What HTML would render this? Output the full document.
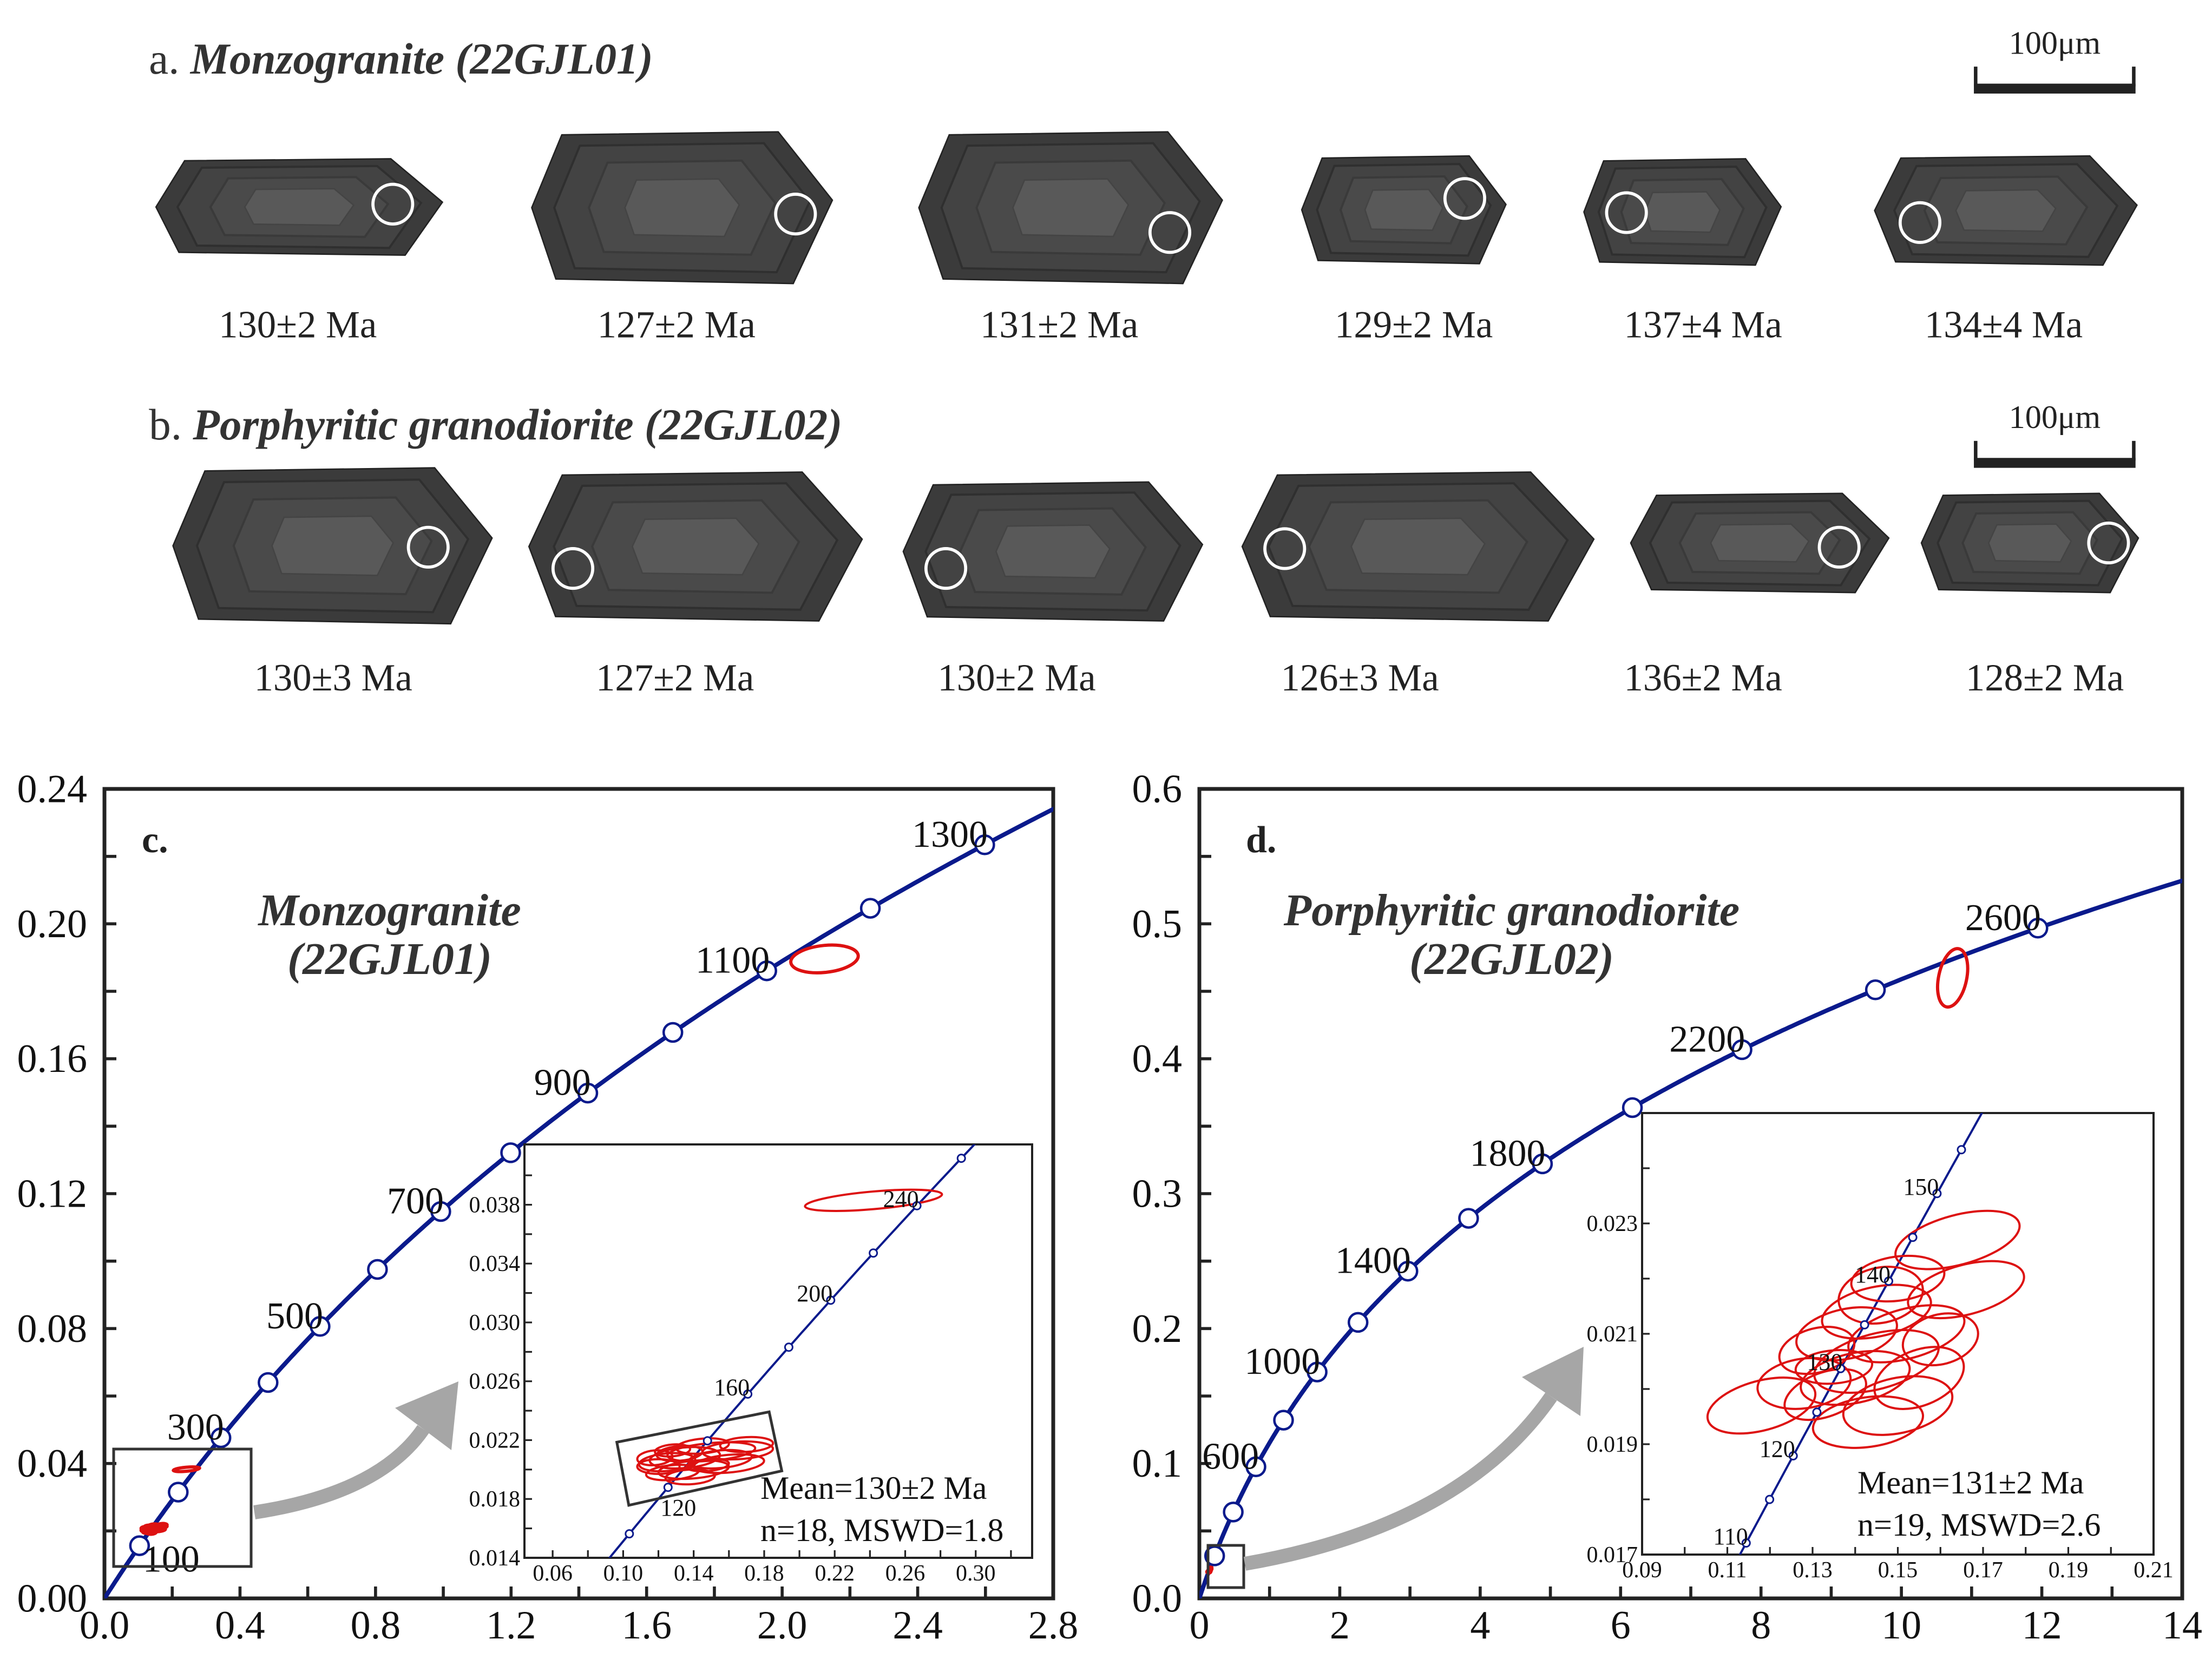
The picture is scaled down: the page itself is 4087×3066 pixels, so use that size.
<!DOCTYPE html>
<html><head><meta charset="utf-8">
<style>
html,body{margin:0;padding:0;background:#fff;}
svg{display:block;font-family:"Liberation Serif",serif;}
</style></head>
<body>
<svg id="fig" xmlns="http://www.w3.org/2000/svg" width="4087" height="3066" viewBox="0 0 4087 3066">
<rect width="4087" height="3066" fill="#fff"/>
<defs>
<clipPath id="clipC"><rect x="193" y="1458" width="1753" height="1496"/></clipPath>
<clipPath id="clipD"><rect x="2216" y="1458" width="1816" height="1496"/></clipPath>
<clipPath id="clipCi"><rect x="969" y="2115" width="938" height="764"/></clipPath>
<clipPath id="clipDi"><rect x="3034" y="2057" width="945" height="816"/></clipPath>
</defs>
<g id="topg" transform="scale(2.62)"></g>
<g id="charts"></g>
</svg>
<script>
// ---------- data ----------
const cMainXTicks=[0,0.4,0.8,1.2,1.6,2.0,2.4,2.8];
const cMainXLabels=["0.0","0.4","0.8","1.2","1.6","2.0","2.4","2.8"];
const cMainYTicks=[0,0.04,0.08,0.12,0.16,0.20,0.24];
const cMainYLabels=["0.00","0.04","0.08","0.12","0.16","0.20","0.24"];
const cMarkerAges=[100,200,300,400,500,600,700,800,900,1000,1100,1200,1300];
const cLabelAges=[100,300,500,700,900,1100,1300];
const cInsetXTicks=[0.06,0.10,0.14,0.18,0.22,0.26,0.30];
const cInsetXLabels=["0.06","0.10","0.14","0.18","0.22","0.26","0.30"];
const cInsetYTicks=[0.014,0.018,0.022,0.026,0.030,0.034,0.038];
const cInsetYLabels=["0.014","0.018","0.022","0.026","0.030","0.034","0.038"];
const cInsetMarkerAges=[100,120,140,160,180,200,220,240,260];
const cInsetLabelAges=[120,160,200,240];
const cEllX=[0.125,0.135,0.150,0.165,0.140,0.128,0.155,0.120,0.145,0.132,0.160,0.138,0.148,0.118,0.170,0.128,0.242,2.125];
const cEllY=[0.0205,0.0208,0.0212,0.0213,0.0200,0.0198,0.0207,0.0202,0.0216,0.0211,0.0204,0.0195,0.0203,0.0208,0.0217,0.0213,0.0383,0.1896];
const cEllSX=[0.016,0.020,0.025,0.020,0.020,0.015,0.018,0.012,0.015,0.013,0.020,0.014,0.012,0.010,0.015,0.010,0.039,0.100];
const cEllSY=[0.0006,0.0007,0.0006,0.0006,0.0006,0.0005,0.0006,0.0005,0.0005,0.0005,0.0006,0.0005,0.0004,0.0005,0.0005,0.0004,0.0006,0.004];
const cEllRot=[-5,-5,-5,-3,-5,-5,-5,0,-5,-5,-5,-3,-5,-5,-3,-5,-5,-6];

const dMainXTicks=[0,2,4,6,8,10,12,14];
const dMainXLabels=["0","2","4","6","8","10","12","14"];
const dMainYTicks=[0,0.1,0.2,0.3,0.4,0.5,0.6];
const dMainYLabels=["0.0","0.1","0.2","0.3","0.4","0.5","0.6"];
const dMarkerAges=[200,400,600,800,1000,1200,1400,1600,1800,2000,2200,2400,2600];
const dLabelAges=[600,1000,1400,1800,2200,2600];
const dInsetXTicks=[0.09,0.11,0.13,0.15,0.17,0.19,0.21];
const dInsetXLabels=["0.09","0.11","0.13","0.15","0.17","0.19","0.21"];
const dInsetYTicks=[0.017,0.019,0.021,0.023];
const dInsetYLabels=["0.017","0.019","0.021","0.023"];
const dInsetMarkerAges=[110,115,120,125,130,135,140,145,150,155];
const dInsetLabelAges=[110,120,130,140,150];
const dEllX=[0.164,0.166,0.150,0.145,0.152,0.138,0.145,0.140,0.128,0.118,0.133,0.150,0.143,0.135,0.155,0.131,0.160,0.146,10.73];
const dEllY=[0.0227,0.0218,0.0220,0.0214,0.0210,0.0210,0.0205,0.0202,0.0201,0.0197,0.0199,0.0197,0.0194,0.0204,0.0202,0.0207,0.0209,0.0217,0.46];
const dEllSX=[0.015,0.014,0.011,0.013,0.014,0.012,0.015,0.013,0.011,0.013,0.010,0.013,0.013,0.009,0.011,0.009,0.009,0.010,0.2];
const dEllSY=[0.00045,0.00045,0.0004,0.00045,0.00045,0.00045,0.0005,0.00045,0.00045,0.00045,0.0004,0.0005,0.00045,0.0003,0.0005,0.0004,0.00045,0.0005,0.022];
const dEllRot=[-15,-15,-8,-12,-15,-12,-15,-12,-8,-15,-20,-12,-8,-5,-22,-15,-15,-12,12];

const rowALabels=["130±2 Ma","127±2 Ma","131±2 Ma","129±2 Ma","137±4 Ma","134±4 Ma"];
const rowBLabels=["130±3 Ma","127±2 Ma","130±2 Ma","126±3 Ma","136±2 Ma","128±2 Ma"];

// ---------- helpers ----------
const NS="http://www.w3.org/2000/svg";
function mk(parent,tag,attrs){const e=document.createElementNS(NS,tag);for(const k in attrs)e.setAttribute(k,attrs[k]);parent.appendChild(e);return e;}
const L238=1.55125e-4, L235=9.8485e-4;
function conc(t){return [Math.exp(L235*t)-1,Math.exp(L238*t)-1];}
function scaleFn(d0,d1,p0,p1){return v=>p0+(v-d0)/(d1-d0)*(p1-p0);}

// ---------- top CL images ----------
const topG=document.getElementById('topg');
const crysA=[[110,112,312,180],[375,93,587,200],[648,93,862,200],[918,110,1062,186],[1117,112,1256,187],[1322,110,1507,187]];
const circA=[[277,144],[561,151],[825,164],[1033,140],[1147,150],[1354,157]];
const labXA=[210,477,747,997,1201,1413];
const crysB=[[122,330,347,440],[373,333,608,438],[637,340,848,438],[876,333,1124,438],[1150,348,1332,418],[1355,348,1508,418]];
const circB=[[302,386],[404,401],[667,401],[906,387],[1297,386],[1487,383]];
const labXB=[235,476,717,959,1201,1442];
function crystal(b,name){
  const [x0,y0,x1,y1]=b,w=x1-x0,h=y1-y0,ym=(y0+y1)/2;
  const g=mk(topG,'g',{});
  
  
  const pts=[[x0,ym],[x0+0.1*w,y0+0.02*h],[x1-0.18*w,y0],[x1,ym-0.05*h],[x1-0.13*w,y1],[x0+0.08*w,y1-0.03*h]];
  const cx=(x0+x1)/2,cy=ym;
  const poly=(s)=>pts.map(p=>(cx+(p[0]-cx)*s).toFixed(1)+','+(cy+(p[1]-cy)*s).toFixed(1)).join(' ');
  mk(g,'polygon',{points:poly(1),fill:'#3b3b3b',stroke:'#222','stroke-width':1});
  mk(g,'polygon',{points:poly(0.85),fill:'#434343',stroke:'#2f2f2f','stroke-width':1.5});
  mk(g,'polygon',{points:poly(0.62),fill:'#4a4a4a',stroke:'#3a3a3a','stroke-width':1.5});
  mk(g,'polygon',{points:poly(0.38),fill:'#595959',stroke:'#444','stroke-width':1});
}
function spot(c,name){
  const e=mk(topG,'circle',{cx:c[0],cy:c[1],r:14,fill:'none',stroke:'#fff','stroke-width':2.2});
  
  
}
function ageLabel(x,y,txt,name){
  const t=mk(topG,'text',{x:x,y:y,'text-anchor':'middle','font-size':27,fill:'#222'});
  t.textContent=txt;
  
  
}
crysA.forEach((b,i)=>{crystal(b,'zircon-a'+(i+1));spot(circA[i],'spot-a'+(i+1));ageLabel(labXA[i],238,rowALabels[i],'age-label-a'+(i+1));});
crysB.forEach((b,i)=>{crystal(b,'zircon-b'+(i+1));spot(circB[i],'spot-b'+(i+1));ageLabel(labXB[i],487,rowBLabels[i],'age-label-b'+(i+1));});
function rowTitle(y,name,txt,nm){
  const t=mk(topG,'text',{x:105,y:y,'font-size':31,fill:'#333'});
  
  
  const s1=mk(t,'tspan',{});s1.textContent=name+' ';
  const s2=mk(t,'tspan',{'font-weight':'bold','font-style':'italic'});s2.textContent=txt;
}
rowTitle(52,'a.','Monzogranite (22GJL01)','title-a');
rowTitle(310,'b.','Porphyritic granodiorite (22GJL02)','title-b');
function scaleBar(yb,yt,nm){
  const g=mk(topG,'g',{});
  
  
  mk(g,'rect',{x:1392,y:yb,width:114,height:7,fill:'#222'});
  mk(g,'rect',{x:1392,y:yb-12,width:2.5,height:14,fill:'#222'});
  mk(g,'rect',{x:1503.5,y:yb-12,width:2.5,height:14,fill:'#222'});
  const t=mk(g,'text',{x:1449,y:yt,'text-anchor':'middle','font-size':23,fill:'#222'});t.textContent='100μm';
}
scaleBar(59,38,'scale-bar-a');
scaleBar(323,302,'scale-bar-b');

// ---------- charts ----------
const chartsG=document.getElementById('charts');
const NAVY='#0a1a8c', RED='#dd1111';
function drawCurve(g,sx,sy,t0,t1,step,w,clip){
  let d='';
  for(let t=t0;t<=t1;t+=step){const p=conc(t);d+=(d?'L':'M')+sx(p[0]).toFixed(1)+','+sy(p[1]).toFixed(1);}
  const e=mk(g,'path',{d:d,fill:'none',stroke:NAVY,'stroke-width':w,'clip-path':'url(#'+clip+')'});
  
  
}
function drawEllipses(g,sx,sy,X,Y,SX,SY,R,clip,w,nm){
  const gg=mk(g,'g',{'clip-path':'url(#'+clip+')'});
  X.forEach((x,i)=>{
    const cx=sx(x),cy=sy(Y[i]);
    const rx=Math.abs(sx(x+SX[i])-cx),ry=Math.abs(sy(Y[i]+SY[i])-cy);
    const e=mk(gg,'ellipse',{cx:cx.toFixed(1),cy:cy.toFixed(1),rx:Math.max(rx,1.5).toFixed(1),ry:Math.max(ry,1.5).toFixed(1),transform:'rotate('+R[i]+' '+cx.toFixed(1)+' '+cy.toFixed(1)+')',fill:'none',stroke:RED,'stroke-width':w});
    
    
  });
}
function drawMarkers(g,sx,sy,ages,r,w,labels,fs,special,clip){
  const gg=mk(g,'g',{'clip-path':'url(#'+clip+')'});
  ages.forEach(a=>{
    const p=conc(a);const x=sx(p[0]),y=sy(p[1]);
    const c=mk(gg,'circle',{cx:x.toFixed(1),cy:y.toFixed(1),r:r,fill:'#fff',stroke:NAVY,'stroke-width':w});
    
    
  });
  labels.forEach(a=>{
    const p=conc(a);const x=sx(p[0]),y=sy(p[1]);
    let tx=x+fs*0.08,ty=y+fs*0.05,anc='end';
    if(special[a]){tx=x+special[a][0];ty=y+special[a][1];anc='start';}
    const t=mk(g,'text',{x:tx.toFixed(1),y:ty.toFixed(1),'text-anchor':anc,'font-size':fs,fill:'#111'});
    t.textContent=String(a);
    
    
  });
}
function axes(g,box,sx,sy,xt,xl,yt,yl,xminor,yminor,fs,sw,tl,nm,ygap){
  const [x0,y0,x1,y1]=box;
  const r=mk(g,'rect',{x:x0,y:y0,width:x1-x0,height:y1-y0,fill:'none',stroke:'#222','stroke-width':sw});
  
  
  xminor.forEach(v=>{mk(g,'line',{x1:sx(v),x2:sx(v),y1:y1,y2:y1-tl,stroke:'#222','stroke-width':sw*0.8});});
  yminor.forEach(v=>{mk(g,'line',{x1:x0,x2:x0+tl,y1:sy(v),y2:sy(v),stroke:'#222','stroke-width':sw*0.8});});
  xt.forEach((v,i)=>{
    const t=mk(g,'text',{x:sx(v).toFixed(1),y:(y1+fs*1.0).toFixed(1),'text-anchor':'middle','font-size':fs,fill:'#111'});
    t.textContent=xl[i];
    
    
  });
  yt.forEach((v,i)=>{
    const t=mk(g,'text',{x:(x0-ygap).toFixed(1),y:(sy(v)+fs*0.33).toFixed(1),'text-anchor':'end','font-size':fs,fill:'#111'});
    t.textContent=yl[i];
    
    
  });
}
function range(a,b,s){const r=[];for(let v=a;v<=b+s*1e-6;v+=s)r.push(+v.toFixed(6));return r;}
function txt(g,x,y,s,fs,attrs,nm){const t=mk(g,'text',Object.assign({x:x,y:y,'font-size':fs,fill:'#333'},attrs||{}));t.textContent=s;return t;}
function arrow(g,d,tip,b1,b2,nm){
  const gg=mk(g,'g',{});
  
  
  mk(gg,'path',{d:d,fill:'none',stroke:'#a6a6a6','stroke-width':26});
  mk(gg,'polygon',{points:tip.join(',')+' '+b1.join(',')+' '+b2.join(','),fill:'#a6a6a6'});
}

// ----- panel c -----
(function(){
  const g=mk(chartsG,'g',{});
  
  
  const box=[193,1458,1946,2954];
  const sx=scaleFn(0,2.8,box[0],box[2]),sy=scaleFn(0,0.24,box[3],box[1]);
  axes(g,box,sx,sy,cMainXTicks,cMainXLabels,cMainYTicks,cMainYLabels,range(0.2,2.6,0.2),range(0.02,0.22,0.02),74,7,22,'panel-c',32);
  drawCurve(g,sx,sy,0,1360,4,8,'clipC');
  drawEllipses(g,sx,sy,cEllX,cEllY,cEllSX,cEllSY,cEllRot,'clipC',6,'panel-c');
  drawMarkers(g,sx,sy,cMarkerAges,17,4.5,cLabelAges,70,{100:[6,48]},'clipC');
  txt(g,262,1575,'c.',70,{'font-weight':'bold',fill:'#222'},'panel-c-letter');
  txt(g,720,1710,'Monzogranite',84,{'text-anchor':'middle','font-weight':'bold','font-style':'italic'},'panel-c-title');
  txt(g,720,1800,'(22GJL01)',84,{'text-anchor':'middle','font-weight':'bold','font-style':'italic'},'panel-c-subtitle');
  const zb=mk(g,'rect',{x:210,y:2678,width:254,height:217,fill:'none',stroke:'#333','stroke-width':5});
  
  
  arrow(g,'M470,2795 Q700,2760 782,2641',[847,2553],[834,2680],[730,2602],'panel-c-arrow');
  const ib=[969,2115,1907,2879];
  const ix=scaleFn(0.044,0.332,ib[0],ib[2]),iy=scaleFn(0.014,0.0421,ib[3],ib[1]);
  const gi=mk(g,'g',{});
  
  
  mk(gi,'rect',{x:ib[0],y:ib[1],width:ib[2]-ib[0],height:ib[3]-ib[1],fill:'#fff'});
  axes(gi,ib,ix,iy,cInsetXTicks,cInsetXLabels,cInsetYTicks,cInsetYLabels,range(0.06,0.32,0.02),range(0.016,0.040,0.002),42,4,14,'panel-c-inset',8);
  drawCurve(gi,ix,iy,60,300,2,4,'clipCi');
  const rc=[[0.0964,0.02186],[0.1828,0.02392],[0.190,0.01991],[0.1032,0.01757]];
  const rr=mk(gi,'polygon',{points:rc.map(p=>ix(p[0]).toFixed(1)+','+iy(p[1]).toFixed(1)).join(' '),fill:'none',stroke:'#333','stroke-width':5});
  
  
  drawEllipses(gi,ix,iy,cEllX,cEllY,cEllSX,cEllSY,cEllRot,'clipCi',4,'panel-c-inset');
  drawMarkers(gi,ix,iy,cInsetMarkerAges,7,3,cInsetLabelAges,44,{120:[-14,52]},'clipCi');
  txt(gi,1405,2770,'Mean=130±2 Ma',60,{fill:'#111'},'panel-c-mean');
  txt(gi,1405,2848,'n=18, MSWD=1.8',60,{fill:'#111'},'panel-c-mswd');
})();

// ----- panel d -----
(function(){
  const g=mk(chartsG,'g',{});
  
  
  const box=[2216,1458,4032,2954];
  const sx=scaleFn(0,14,box[0],box[2]),sy=scaleFn(0,0.6,box[3],box[1]);
  axes(g,box,sx,sy,dMainXTicks,dMainXLabels,dMainYTicks,dMainYLabels,range(1,13,1),range(0.05,0.55,0.05),74,7,22,'panel-d',32);
  drawCurve(g,sx,sy,0,2760,5,8,'clipD');
  drawEllipses(g,sx,sy,dEllX,dEllY,dEllSX,dEllSY,dEllRot,'clipD',6,'panel-d');
  drawMarkers(g,sx,sy,dMarkerAges,17,4.5,dLabelAges,70,{},'clipD');
  txt(g,2302,1575,'d.',70,{'font-weight':'bold',fill:'#222'},'panel-d-letter');
  txt(g,2793,1710,'Porphyritic granodiorite',84,{'text-anchor':'middle','font-weight':'bold','font-style':'italic'},'panel-d-title');
  txt(g,2793,1800,'(22GJL02)',84,{'text-anchor':'middle','font-weight':'bold','font-style':'italic'},'panel-d-subtitle');
  const zb=mk(g,'rect',{x:2232,y:2856,width:66,height:78,fill:'none',stroke:'#333','stroke-width':5});
  
  
  arrow(g,'M2300,2890 Q2700,2820 2866,2581',[2926,2489],[2920,2617],[2812,2545],'panel-d-arrow');
  const ib=[3034,2057,3979,2873];
  const ix=scaleFn(0.09,0.21,ib[0],ib[2]),iy=scaleFn(0.017,0.025,ib[3],ib[1]);
  const gi=mk(g,'g',{});
  
  
  mk(gi,'rect',{x:ib[0],y:ib[1],width:ib[2]-ib[0],height:ib[3]-ib[1],fill:'#fff'});
  axes(gi,ib,ix,iy,dInsetXTicks,dInsetXLabels,dInsetYTicks,dInsetYLabels,range(0.10,0.20,0.01),range(0.018,0.024,0.001),42,4,14,'panel-d-inset',8);
  drawCurve(gi,ix,iy,100,175,1,4,'clipDi');
  drawEllipses(gi,ix,iy,dEllX,dEllY,dEllSX,dEllSY,dEllRot,'clipDi',4,'panel-d-inset');
  drawMarkers(gi,ix,iy,dInsetMarkerAges,7,3,dInsetLabelAges,44,{},'clipDi');
  txt(gi,3432,2760,'Mean=131±2 Ma',60,{fill:'#111'},'panel-d-mean');
  txt(gi,3432,2838,'n=19, MSWD=2.6',60,{fill:'#111'},'panel-d-mswd');
})();
</script>
</body></html>
